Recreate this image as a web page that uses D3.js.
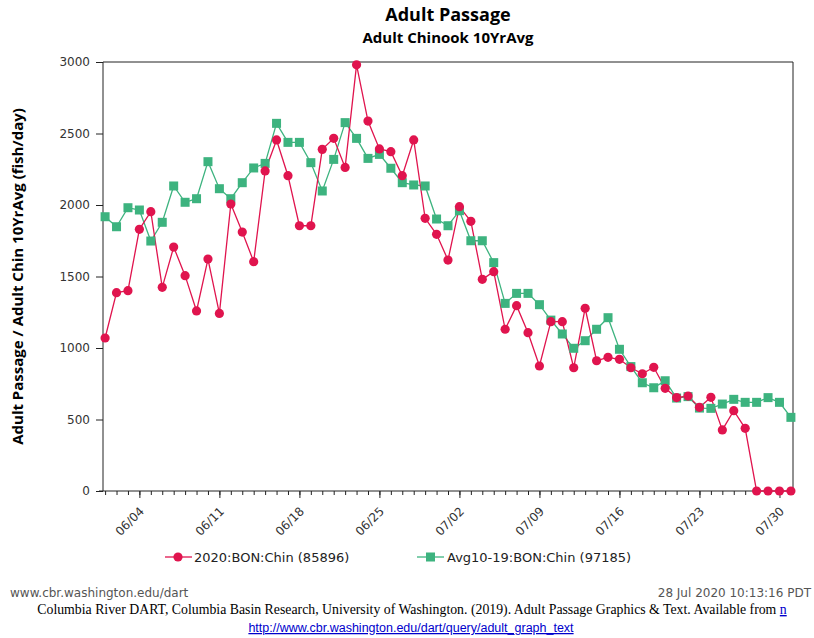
<!DOCTYPE html>
<html lang="en">
  <head>
    <meta charset="utf-8">
    <title>Adult Passage - Adult Chinook 10YrAvg</title>
    <style>
      body { margin: 0; background: #fff; }
      .title { font-family: "Open Sans", sans-serif; font-weight: bold; fill: #000; }
      .axis text { font-family: "DejaVu Sans", sans-serif; font-size: 12px; fill: #333; }
      .axis path, .axis line { stroke: #222; }
      .legend text { font-family: "DejaVu Sans", sans-serif; font-size: 13px; fill: #222; }
      .foot { font-family: "DejaVu Sans", sans-serif; font-size: 12px; fill: #555; }
      .cite { font-family: "Liberation Serif", serif; font-size: 13.8px; fill: #000; }
      .link { font-family: "Liberation Sans", sans-serif; font-size: 12.5px; fill: #0000cc; text-decoration: underline; }
    </style>
  </head>
  <body>
    <div id="container"></div>
    <script src="https://cdn.jsdelivr.net/npm/d3@7/dist/d3.min.js"></script>
    <script type="text/javascript">
      // daily counts, 06/01 .. 07/31 (2020)
      var red2020 = [1070, 1387, 1401, 1830, 1953, 1424, 1706, 1506, 1259, 1622, 1242, 2007, 1811, 1604, 2238, 2455,
                     2205, 1855, 1855, 2389, 2466, 2263, 2980, 2587, 2392, 2373, 2205, 2455, 1907, 1795, 1615,
                     1988, 1886, 1480, 1534, 1131, 1296, 1107, 874, 1184, 1184, 862, 1278, 911, 935, 921,
                     862, 820, 865, 718, 653, 664, 585, 655, 427, 562, 438, 0, 0, 0, 0];
      var avg10yr = [1918, 1848, 1981, 1965, 1748, 1879, 2133, 2019, 2044, 2303, 2114, 2044, 2156, 2259, 2291, 2571,
                     2438, 2438, 2296, 2098, 2319, 2576, 2466, 2326, 2354, 2257, 2156, 2140, 2133, 1902, 1855,
                     1960, 1750, 1750, 1597, 1312, 1382, 1382, 1303, 1195, 1098, 998, 1051, 1131, 1212, 991,
                     870, 757, 722, 771, 650, 660, 580, 578, 608, 641, 620, 620, 653, 620, 515];
      var days = d3.utcDay.range(new Date(Date.UTC(2020, 5, 1)), new Date(Date.UTC(2020, 7, 1)));
      var yTicks = [0, 500, 1000, 1500, 2000, 2500, 3000];
      var seriesNames = ["2020:BON:Chin (85896)", "Avg10-19:BON:Chin (97185)"];

      var W = 814, H = 638;
      var margin = {top: 62, right: 21, bottom: 147, left: 103},
          width = W - margin.left - margin.right,
          height = H - margin.top - margin.bottom;

      var red = "#e0144e", green = "#3db37f";

      var svg = d3.select("#container").append("svg")
          .attr("width", W)
          .attr("height", H);

      var pad = 4.4 * 3600 * 1000;
      var x = d3.scaleUtc()
          .domain([new Date(+days[0] - pad), new Date(+days[days.length - 1] + pad)])
          .range([0, width]);
      var y = d3.scaleLinear().domain([0, 3000]).range([height, 0]);

      var g = svg.append("g").attr("transform", "translate(" + margin.left + "," + margin.top + ")");

      // frame (top + right)
      g.append("path")
        .attr("d", "M0,0H" + width + "V" + height)
        .attr("fill", "none").attr("stroke", "#222");

      // y axis
      g.append("g").attr("class", "axis")
        .call(d3.axisLeft(y).tickValues(yTicks).tickSize(7).tickPadding(6).tickFormat(d3.format("d")))
        .call(function(s) { s.select(".domain").attr("d", "M0,0V" + height); });

      // x axis: daily minor ticks, weekly labels (Thursdays)
      var xg = g.append("g").attr("class", "axis").attr("transform", "translate(0," + height + ")");
      xg.call(d3.axisBottom(x).tickValues(days).tickSize(4).tickFormat(""))
        .call(function(s) { s.select(".domain").attr("d", "M-4,0H" + width); });
      var xMajor = g.append("g").attr("class", "axis").attr("transform", "translate(0," + height + ")");
      xMajor.call(d3.axisBottom(x).ticks(d3.utcThursday.every(1)).tickSize(7).tickFormat(d3.utcFormat("%m/%d")))
        .call(function(s) { s.select(".domain").remove(); });
      xMajor.selectAll("text")
        .attr("text-anchor", "end")
        .attr("dy", null)
        .attr("y", 0)
        .attr("transform", "translate(5,21) rotate(-45)");

      // lines
      var line = function(vals) {
        return d3.line().x(function(d, i) { return x(days[i]); }).y(function(d) { return y(d); })(vals);
      };
      g.append("path").attr("d", line(avg10yr)).attr("fill", "none").attr("stroke", green).attr("stroke-width", 1.3);
      g.append("path").attr("d", line(red2020)).attr("fill", "none").attr("stroke", red).attr("stroke-width", 1.3);

      g.selectAll(".sq").data(avg10yr).enter().append("rect")
        .attr("class", "sq")
        .attr("x", function(d, i) { return x(days[i]) - 4.5; })
        .attr("y", function(d) { return y(d) - 4.5; })
        .attr("width", 9).attr("height", 9)
        .attr("fill", green);
      g.selectAll(".dot").data(red2020).enter().append("circle")
        .attr("class", "dot")
        .attr("cx", function(d, i) { return x(days[i]); })
        .attr("cy", function(d) { return y(d); })
        .attr("r", 4.6)
        .attr("fill", red);

      // titles
      svg.append("text").attr("class", "title").attr("x", 448).attr("y", 21)
        .attr("text-anchor", "middle").style("font-size", "18px").text("Adult Passage");
      svg.append("text").attr("class", "title").attr("x", 448).attr("y", 43)
        .attr("text-anchor", "middle").style("font-size", "15px").text("Adult Chinook 10YrAvg");
      svg.append("text").attr("class", "title")
        .attr("transform", "translate(23," + (margin.top + height / 2) + ") rotate(-90)")
        .attr("text-anchor", "middle").style("font-size", "15px")
        .text("Adult Passage / Adult Chin 10YrAvg (fish/day)");

      // legend
      var leg = svg.append("g").attr("class", "legend");
      leg.append("line").attr("x1", 165).attr("x2", 192).attr("y1", 557).attr("y2", 557).attr("stroke", red).attr("stroke-width", 1.3);
      leg.append("circle").attr("cx", 178).attr("cy", 557).attr("r", 4.6).attr("fill", red);
      leg.append("text").attr("x", 194).attr("y", 562).text(seriesNames[0]);
      leg.append("line").attr("x1", 417).attr("x2", 444).attr("y1", 557).attr("y2", 557).attr("stroke", green).attr("stroke-width", 1.3);
      leg.append("rect").attr("x", 426).attr("y", 552.5).attr("width", 9).attr("height", 9).attr("fill", green);
      leg.append("text").attr("x", 447).attr("y", 562).text(seriesNames[1]);

      // footer
      svg.append("text").attr("class", "foot").attr("x", 10).attr("y", 597).text("www.cbr.washington.edu/dart");
      svg.append("text").attr("class", "foot").attr("x", 811).attr("y", 597).attr("text-anchor", "end").text("28 Jul 2020 10:13:16 PDT");
      var cite = svg.append("text").attr("class", "cite").attr("x", 412).attr("y", 614).attr("text-anchor", "middle");
      cite.append("tspan").text("Columbia River DART, Columbia Basin Research, University of Washington. (2019). Adult Passage Graphics & Text. Available from ");
      cite.append("tspan").style("fill", "#0000cc").style("text-decoration", "underline").text("n");
      svg.append("text").attr("class", "link").attr("x", 411).attr("y", 632).attr("text-anchor", "middle")
        .text("http://www.cbr.washington.edu/dart/query/adult_graph_text");
    </script>
  </body>
</html>
